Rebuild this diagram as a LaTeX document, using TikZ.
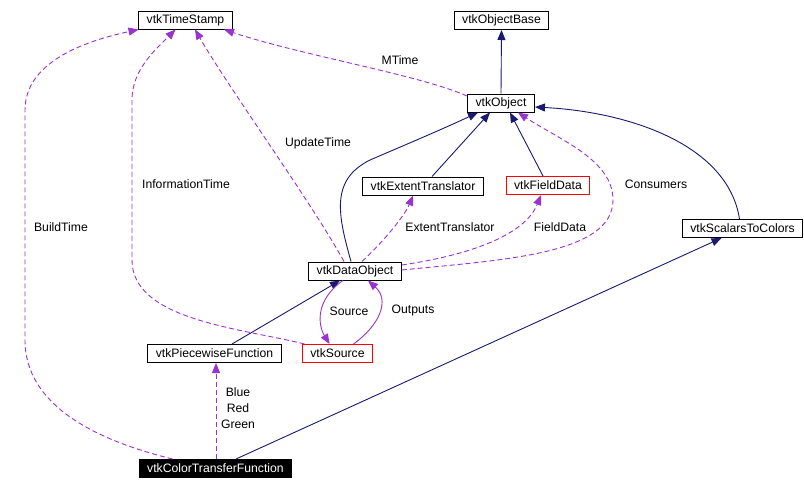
\documentclass[tikz,border=0pt]{standalone}
\usepackage{fontspec}
\setmainfont{Liberation Sans}
\usetikzlibrary{arrows.meta}
\definecolor{edgeblue}{HTML}{191970}
\definecolor{edgepurple}{HTML}{9A32CD}

\begin{document}
\begin{tikzpicture}[x=1pt, y=-1pt, >={Triangle[length=10pt,width=8pt]},
  font=\fontsize{12.2}{16}\selectfont,
  cls/.style={draw=black, line width=1pt, fill=white, inner xsep=8pt, inner ysep=0pt, minimum height=18pt},
  clsred/.style={cls, draw=red},
  clsmain/.style={cls, fill=black, text=white},
  inh/.style={->, edgeblue, line width=0.9pt},
  use/.style={->, edgepurple, line width=0.9pt, dash pattern=on 5pt off 3pt},
  usesolid/.style={->, edgepurple, line width=0.9pt}]
  \useasboundingbox (0,0) rectangle (804,490);

  % Các lớp
  \node[cls] (TS) at (185.5,20) {vtkTimeStamp};
  \node[cls] (OB) at (501.5,20.5) {vtkObjectBase};
  \node[cls] (Obj) at (501,103) {vtkObject};
  \node[cls] (ET) at (423,186) {vtkExtentTranslator};
  \node[clsred] (FD) at (548,185.5) {vtkFieldData};
  \node[cls] (STC) at (742.5,228.5) {vtkScalarsToColors};
  \node[cls] (DO) at (355,271) {vtkDataObject};
  \node[cls] (PF) at (214.5,353.5) {vtkPiecewiseFunction};
  \node[clsred] (Src) at (337.5,353.5) {vtkSource};
  \node[clsmain] (CTF) at (215.5,468.5) {vtkColorTransferFunction};

  % Kế thừa
  \draw[inh] (Obj.north) -- (OB.south);
  \draw[inh] ([xshift=-4pt]DO.north) .. controls (338,215) and (330,180) .. (370,160)
    .. controls (405,145) and (445,128) .. ([xshift=-23pt]Obj.south);
  \draw[inh] ([xshift=9pt]ET.north) -- ([xshift=-11pt]Obj.south);
  \draw[inh] ([xshift=-5pt]FD.north) -- ([xshift=9pt]Obj.south);
  \draw[inh] ([xshift=-3pt]STC.north) .. controls (728,145) and (630,112) .. ([yshift=-4pt]Obj.east);
  \draw[inh] ([xshift=17.5pt]PF.north) -- ([xshift=-15pt]DO.south);
  \draw[inh] ([xshift=20.5pt]CTF.north) -- ([xshift=-21pt]STC.south);

  % Quan hệ sử dụng
  \draw[use] ([xshift=-43pt]CTF.north) .. controls (95,440) and (25,405) .. (25,340)
    -- (25,110) .. controls (25,60) and (90,40) .. ([xshift=-47pt]TS.south);
  \draw[use] ([xshift=-33pt]Src.north) .. controls (240,328) and (132,320) .. (132,260)
    -- (132,100) .. controls (132,70) and (155,50) .. ([xshift=-10pt]TS.south);
  \draw[use] ([xshift=-11pt]DO.north) .. controls (310,200) and (230,90) .. ([xshift=9.5pt]TS.south);
  \draw[use] ([yshift=7pt]Obj.west) .. controls (420,75) and (300,55) .. ([xshift=38.5pt]TS.south);
  \draw[use] ([xshift=7pt]DO.north) .. controls (385,240) and (405,215) .. ([xshift=-10pt]ET.south);
  \draw[use] ([yshift=6pt]DO.east) .. controls (470,255) and (525,235) .. ([xshift=-7pt]FD.south);
  \draw[use] ([yshift=1pt]DO.east) .. controls (500,260) and (613,255) .. (613,200)
    .. controls (613,160) and (560,140) .. ([xshift=17pt]Obj.south);
  \draw[usesolid] ([xshift=-12pt]DO.south) .. controls (315,300) and (318,325) .. ([xshift=-8pt]Src.north);
  \draw[usesolid] ([xshift=16pt]Src.north) .. controls (380,325) and (390,300) .. ([xshift=13pt]DO.south);
  \draw[use] ([xshift=0.5pt]CTF.north) -- ([xshift=0.5pt]CTF.north |- PF.south);

  % Nhãn
  \node (lMTime) at (400,60) {MTime};
  \node (lUpdate) at (318,143) {UpdateTime};
  \node (lInfo) at (186,184) {InformationTime};
  \node (lBuild) at (61,227) {BuildTime};
  \node (lExtent) at (450,227) {ExtentTranslator};
  \node (lField) at (560,227) {FieldData};
  \node (lCons) at (656,184) {Consumers};
  \node (lSource) at (349,311) {Source};
  \node (lOutputs) at (413,311) {Outputs};
  \node[align=center] (lRGB) at (238,408) {Blue\\Red\\Green};
\end{tikzpicture}
\end{document}
